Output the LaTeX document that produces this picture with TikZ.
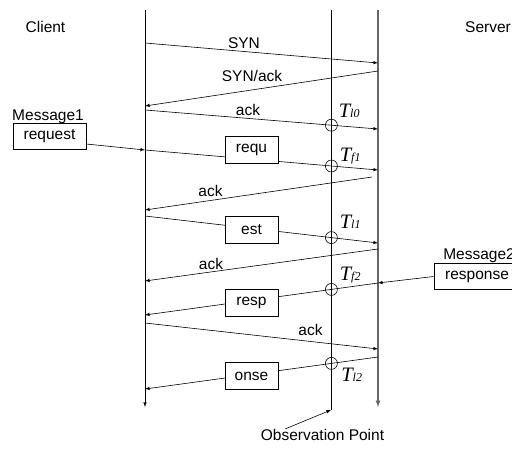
\documentclass[tikz,border=0pt]{standalone}
\usepackage{fontspec}
\setmainfont{Liberation Sans}
\newfontfamily\stampfont{Liberation Serif}
\usetikzlibrary{arrows}
\usetikzlibrary{calc}

\newcommand{\stamp}[1]{{\stampfont\itshape\fontsize{20.5}{20.5}\selectfont T}\raisebox{-0.5pt}{\stampfont\itshape\fontsize{12}{12}\selectfont #1}}

\begin{document}
\begin{tikzpicture}[x=1pt,y=-1pt,>=latex,line width=.6pt,
		font=\fontsize{15.5}{18}\selectfont]
		\useasboundingbox (0,0) rectangle (512,450);

		% lifelines
		\coordinate (ctop) at (145,10);
		\coordinate (cbot) at (145,407);
		\coordinate (otop) at (331,10);
		\coordinate (obot) at (331,410);
		\coordinate (stop) at (378,10);
		\coordinate (sbot) at (378,407);
		\coordinate (onote) at (285,429);

		\draw [->] (ctop) -- (cbot);
		\draw (otop) -- (obot);
		\draw [->,draw=black!60,fill=black!80,line width=1.2pt] (stop) -- (sbot);
		\draw [->] (onote) -- (obot);

		% message ends
		\coordinate (c1) at (145,43);  \coordinate (s1) at (378,63);
		\coordinate (s2) at (378,71);  \coordinate (c2) at (145,106);
		\coordinate (c3) at (145,110); \coordinate (s3) at (378,129);
		\coordinate (c4) at (145,150); \coordinate (s4) at (378,170);
		\coordinate (s5) at (372,177); \coordinate (c5) at (145,210);
		\coordinate (c6) at (145,216); \coordinate (s6) at (378,243);
		\coordinate (s7) at (378,249); \coordinate (c7) at (145,281);
		\coordinate (s8) at (378,283); \coordinate (c8) at (145,315);
		\coordinate (c9) at (145,323); \coordinate (s9) at (378,349);
		\coordinate (s10) at (378,357); \coordinate (c10) at (145,389);

		\begin{scope}[every node/.style={circle,draw,inner sep=0pt,minimum size=12pt},
					  every edge/.style={draw,line width=.6pt}]
			\path [->] (c1) edge (s1);
			\path [->] (s2) edge (c2);
			\path [->] (c3) edge node[pos=.8,name=tl0] {} (s3);
			\path [->] (c4) edge node[pos=.8,name=tf1] {} (s4);
			\path [->] (s5) edge (c5);
			\path [->] (c6) edge node[pos=.8,name=tl1] {} (s6);
			\path [->] (s7) edge (c7);
			\path [->] (s8) edge node[pos=.2,name=tf2] {} (c8);
			\path [->] (c9) edge (s9);
			\path [->] (s10) edge node[pos=.2,name=tl2] {} (c10);
		\end{scope}

		\begin{scope}[every node/.style={draw,fill=white,rectangle,inner sep=0pt,
					  minimum width=53pt,minimum height=26.5pt}]
			\node (requ) at (251.5,150) {requ};
			\node (est) at (251.5,229.7) {est};
			\node (resp) at (251.5,303) {resp};
			\node (onse) at (251.5,376) {onse};
			\node[minimum width=73pt] (req) at (49.5,136.5) {request};
			\node[minimum width=86pt] (rsp) at (477,276.5) {response};
		\end{scope}

		\draw [->] ([yshift=-7.5pt]req.east) -- (c4);
		\draw [->] (rsp.west) -- (s8);

		% texts
		\begin{scope}[every node/.style={anchor=base,inner sep=0pt}]
			\node (client) at (45.5,32.3) {Client};
			\node (server) at (488,32.3) {Server};
			\node (syn) at (244,48.3) {SYN};
			\node (synack) at (252,81.7) {SYN/ack};
			\node (ack1) at (248,115) {ack};
			\node (msg1) at (48,120) {Message1};
			\node (ack2) at (210.5,196.7) {ack};
			\node (ack3) at (211,269) {ack};
			\node[anchor=base west] (msg2) at (443,259) {Message2};
			\node (ack4) at (310.5,335) {ack};
			\node (obs) at (322.5,440) {Observation Point};
			\node[anchor=base west] (ttl0) at (338.5,117) {\stamp{l0}};
			\node[anchor=base west] (ttf1) at (339.5,161) {\stamp{f1}};
			\node[anchor=base west] (ttl1) at (339.5,228) {\stamp{l1}};
			\node[anchor=base west] (ttf2) at (339.5,280) {\stamp{f2}};
			\node[anchor=base west] (ttl2) at (341,381) {\stamp{l2}};
		\end{scope}
	\end{tikzpicture}
\end{document}
